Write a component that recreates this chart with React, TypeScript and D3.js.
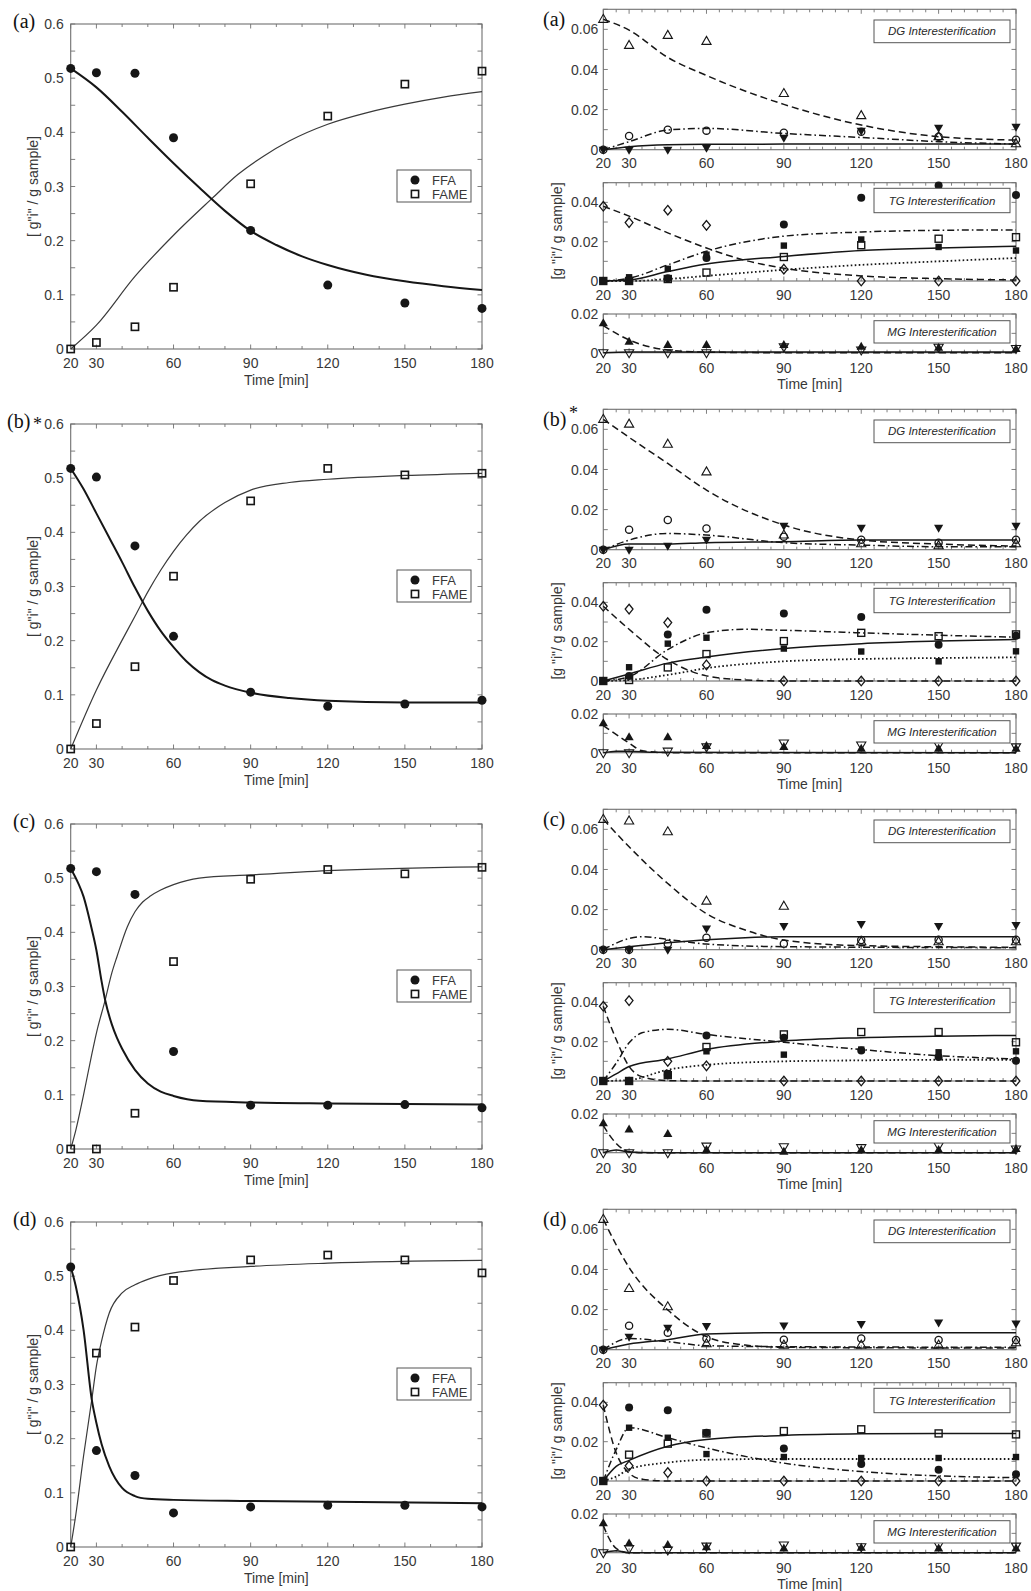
import React from 'react';
import * as d3 from 'd3';

type Pt = [number, number];

// sampling times of the measurements (min) and labelled ticks
const sampleTimes = [20, 30, 45, 60, 90, 120, 150, 180];
const timeTickLabels = [20, 30, 60, 90, 120, 150, 180];
const rowLabels = ['(a)', '(b)', '(c)', '(d)'];
const rowStars = ['', '*', '', ''];

// ---- left column: FFA / FAME, rows a..d ----
const ffaPoints = [
  [0.518, 0.51, 0.509, 0.39, 0.219, 0.118, 0.085, 0.075],
  [0.518, 0.502, 0.375, 0.208, 0.105, 0.079, 0.083, 0.09],
  [0.518, 0.512, 0.47, 0.18, 0.081, 0.081, 0.082, 0.076],
  [0.517, 0.178, 0.132, 0.063, 0.074, 0.077, 0.077, 0.074],
];
const famePoints = [
  [0, 0.012, 0.041, 0.114, 0.305, 0.43, 0.489, 0.513],
  [0, 0.047, 0.152, 0.319, 0.458, 0.518, 0.506, 0.509],
  [0, 0, 0.066, 0.346, 0.498, 0.516, 0.508, 0.52],
  [0, 0.358, 0.406, 0.492, 0.53, 0.539, 0.53, 0.506],
];
const ffaFit: Pt[][] = [
  [[20, 0.518], [30, 0.483], [40, 0.438], [50, 0.39], [60, 0.343], [70, 0.298], [80, 0.255], [90, 0.218], [100, 0.192], [110, 0.171], [120, 0.155], [135, 0.137], [150, 0.125], [165, 0.116], [180, 0.109]],
  [[20, 0.518], [25, 0.48], [30, 0.435], [35, 0.39], [40, 0.345], [45, 0.298], [50, 0.255], [55, 0.218], [60, 0.188], [65, 0.162], [70, 0.142], [75, 0.127], [80, 0.117], [90, 0.104], [105, 0.094], [120, 0.089], [150, 0.086], [180, 0.086]],
  [[20, 0.518], [23, 0.49], [25, 0.466], [28, 0.41], [30, 0.367], [32, 0.31], [33.4, 0.275], [36, 0.23], [38, 0.205], [40, 0.185], [45, 0.146], [50, 0.121], [55, 0.106], [60, 0.098], [70, 0.089], [90, 0.086], [120, 0.084], [180, 0.082]],
  [[20, 0.517], [22, 0.481], [25, 0.401], [28.2, 0.272], [30, 0.229], [32, 0.19], [35, 0.149], [40, 0.109], [45, 0.094], [50, 0.089], [60, 0.087], [90, 0.085], [180, 0.081]],
];
const fameFit: Pt[][] = [
  [[20, 0], [30, 0.044], [45, 0.134], [60, 0.21], [75, 0.278], [85, 0.322], [95, 0.356], [105, 0.384], [120, 0.415], [135, 0.436], [150, 0.452], [165, 0.465], [180, 0.475]],
  [[20, 0], [30, 0.109], [40, 0.201], [45, 0.245], [50, 0.29], [55, 0.33], [60, 0.365], [65, 0.395], [70, 0.42], [80, 0.455], [90, 0.478], [105, 0.492], [120, 0.498], [150, 0.505], [180, 0.509]],
  [[20, 0], [22, 0.035], [25, 0.1], [28, 0.17], [30, 0.214], [33.4, 0.275], [36, 0.325], [38, 0.355], [42, 0.41], [45, 0.438], [48, 0.456], [51, 0.467], [55, 0.478], [60, 0.488], [70, 0.5], [90, 0.506], [120, 0.514], [180, 0.521]],
  [[20, 0], [22, 0.06], [25, 0.168], [28.2, 0.272], [30, 0.334], [32, 0.38], [35, 0.432], [40, 0.469], [45, 0.484], [50, 0.494], [60, 0.506], [90, 0.518], [120, 0.524], [180, 0.529]],
];

// ---- right column: DG interesterification ----
const dgOpenTriangles = [
  [0.065, 0.052, 0.057, 0.054, 0.028, 0.017, 0.0065, 0.003],
  [0.065, 0.0626, 0.0526, 0.0388, 0.0073, 0.003, 0.002, 0.003],
  [0.065, 0.0642, 0.0588, 0.0242, 0.0217, 0.004, 0.004, 0.004],
  [0.065, 0.0305, 0.0214, 0.003, 0.0023, 0.0023, 0.0023, 0.0035],
];
const dgOpenCircles = [
  [0, 0.0068, 0.01, 0.0095, 0.0085, 0.009, 0.0065, 0.005],
  [0, 0.01, 0.0148, 0.0106, 0.0065, 0.005, 0.0035, 0.005],
  [0, 0, 0.003, 0.006, 0.003, 0.0048, 0.005, 0.005],
  [0, 0.012, 0.0085, 0.0056, 0.005, 0.0056, 0.0048, 0.0048],
];
const dgDownTriangles = [
  [0, 0, 0, 0.001, 0.006, 0.0095, 0.011, 0.0115],
  [0, 0, 0.002, 0.005, 0.012, 0.011, 0.011, 0.012],
  [0, 0, 0, 0.0106, 0.0118, 0.0128, 0.0118, 0.0123],
  [0, 0.0065, 0.011, 0.0118, 0.0121, 0.0128, 0.0136, 0.0131],
];
const dgTriangleFit: Pt[][] = [
  [[20, 0.065], [30, 0.0596], [45, 0.046], [60, 0.037], [90, 0.0226], [120, 0.0123], [150, 0.0065], [180, 0.0048]],
  [[20, 0.065], [30, 0.056], [45, 0.043], [60, 0.0297], [90, 0.0123], [120, 0.0048], [150, 0.0028], [180, 0.0018]],
  [[20, 0.065], [30, 0.0513], [45, 0.033], [60, 0.018], [75, 0.0098], [90, 0.0048], [120, 0.002], [180, 0.0012]],
  [[20, 0.065], [30, 0.041], [45, 0.0198], [60, 0.0065], [75, 0.0023], [90, 0.0012], [180, 0.0008]],
];
const dgCircleFit: Pt[][] = [
  [[20, 0], [30, 0.004], [45, 0.0098], [60, 0.0106], [90, 0.0081], [120, 0.0061], [150, 0.004], [180, 0.0028]],
  [[20, 0], [30, 0.0048], [45, 0.0081], [60, 0.0073], [90, 0.0035], [120, 0.0023], [150, 0.0015], [180, 0.0015]],
  [[20, 0], [30, 0.0056], [35, 0.0065], [45, 0.0051], [60, 0.0028], [90, 0.0015], [180, 0.001]],
  [[20, 0], [30, 0.0056], [45, 0.004], [60, 0.002], [90, 0.0015], [180, 0.0012]],
];
const dgDownFit: Pt[][] = [
  [[20, 0], [30, 0.0015], [45, 0.0025], [60, 0.0027], [90, 0.0028], [180, 0.0028]],
  [[20, 0], [30, 0.0028], [45, 0.0028], [60, 0.0035], [90, 0.004], [120, 0.0048], [180, 0.0048]],
  [[20, 0], [30, 0.0015], [45, 0.0035], [60, 0.005], [75, 0.006], [90, 0.0065], [180, 0.0065]],
  [[20, 0], [30, 0.0028], [45, 0.005], [60, 0.0078], [90, 0.0085], [180, 0.0085]],
];

// ---- right column: TG interesterification ----
const tgDiamonds = [
  [0.038, 0.0297, 0.036, 0.0283, 0.006, 0, 0, 0],
  [0.038, 0.0366, 0.0297, 0.0082, 0, 0, 0, 0],
  [0.038, 0.0409, 0.01, 0.0077, 0, 0, 0, 0],
  [0.0386, 0.0077, 0.0043, 0, 0, 0, 0, 0],
];
const tgFilledCircles = [
  [0, 0, 0.0014, 0.0117, 0.0288, 0.0424, 0.0486, 0.0438],
  [0, 0.0026, 0.0237, 0.0362, 0.0343, 0.0326, 0.0184, 0.023],
  [0, 0, 0.003, 0.0232, 0.022, 0.0155, 0.0122, 0.0103],
  [0, 0.0374, 0.036, 0.0245, 0.0165, 0.0086, 0.0057, 0.0034],
];
const tgFilledSquares = [
  [0, 0.0019, 0.0062, 0.0134, 0.018, 0.0211, 0.0173, 0.0155],
  [0, 0.007, 0.019, 0.022, 0.0165, 0.015, 0.01, 0.0151],
  [0, 0, 0.004, 0.0151, 0.0134, 0.016, 0.0146, 0.0151],
  [0, 0.0271, 0.022, 0.0137, 0.0122, 0.0117, 0.0117, 0.0122],
];
const tgOpenSquares = [
  [0, 0, 0.001, 0.0043, 0.0122, 0.0182, 0.0215, 0.0223],
  [0, 0.0005, 0.0069, 0.0137, 0.0203, 0.0245, 0.0228, 0.0237],
  [0, 0, 0.003, 0.0173, 0.0237, 0.0249, 0.0249, 0.0197],
  [0, 0.0134, 0.019, 0.0242, 0.0254, 0.0263, 0.0242, 0.0237],
];
const tgDiamondFit: Pt[][] = [
  [[20, 0.038], [30, 0.033], [45, 0.0245], [60, 0.0168], [75, 0.0105], [90, 0.0065], [120, 0.0026], [150, 0.0012], [180, 0.0005]],
  [[20, 0.038], [30, 0.0263], [45, 0.0108], [60, 0.0026], [75, 0.0005], [90, 0], [180, 0]],
  [[20, 0.038], [25, 0.0211], [30, 0.0074], [35, 0.0022], [45, 0.0002], [60, 0], [180, 0]],
  [[20, 0.0386], [25, 0.0143], [30, 0.004], [35, 0.0009], [45, 0], [180, 0]],
];
const tgCircleFit: Pt[][] = [
  [[20, 0], [30, 0.0014], [45, 0.0082], [60, 0.0151], [90, 0.0228], [120, 0.0249], [150, 0.0258], [180, 0.026]],
  [[20, 0], [30, 0.0022], [45, 0.016], [60, 0.0245], [75, 0.0263], [90, 0.0258], [120, 0.0245], [150, 0.0233], [180, 0.0223]],
  [[20, 0], [25, 0.0091], [30, 0.0194], [35, 0.0245], [45, 0.0263], [60, 0.0237], [90, 0.0197], [120, 0.016], [150, 0.0129], [180, 0.0112]],
  [[20, 0], [25, 0.016], [30, 0.0271], [45, 0.022], [60, 0.0168], [90, 0.0091], [120, 0.0048], [150, 0.0026], [180, 0.0017]],
];
const tgOpenSquareFit: Pt[][] = [
  [[20, 0], [30, 0.0005], [45, 0.0048], [60, 0.0086], [90, 0.0125], [120, 0.0155], [150, 0.0168], [180, 0.0177]],
  [[20, 0], [30, 0.0036], [45, 0.0091], [60, 0.0122], [90, 0.0165], [120, 0.019], [150, 0.0203], [180, 0.0211]],
  [[20, 0], [25, 0.0036], [30, 0.0074], [45, 0.0112], [60, 0.016], [90, 0.0203], [120, 0.022], [150, 0.0228], [180, 0.0232]],
  [[20, 0], [25, 0.0074], [30, 0.0105], [45, 0.0177], [60, 0.0211], [90, 0.0232], [120, 0.024], [150, 0.0242], [180, 0.0242]],
];
const tgSquareFit: Pt[][] = [
  [[20, 0], [30, 0], [45, 0.001], [60, 0.0026], [90, 0.0057], [120, 0.0082], [150, 0.01], [180, 0.0117]],
  [[20, 0], [30, 0.0005], [45, 0.0031], [60, 0.0065], [90, 0.01], [120, 0.0112], [150, 0.0117], [180, 0.012]],
  [[20, 0], [30, 0.0005], [45, 0.0057], [60, 0.0082], [90, 0.01], [120, 0.0105], [150, 0.0108], [180, 0.0108]],
  [[20, 0], [25, 0.0022], [30, 0.006], [45, 0.0094], [60, 0.0108], [90, 0.0112], [180, 0.0112]],
];

// ---- right column: MG interesterification ----
const mgUpTriangles = [
  [0.0152, 0.0057, 0.004, 0.004, 0.004, 0.0031, 0.0026, 0.0019],
  [0.0152, 0.008, 0.008, 0.0035, 0.003, 0.002, 0.002, 0.002],
  [0.0152, 0.012, 0.0097, 0.0014, 0.0005, 0.0014, 0.0014, 0.0019],
  [0.0152, 0.0048, 0.004, 0.0028, 0.0022, 0.0026, 0.0022, 0.0022],
];
const mgDownTriangles = [
  [0, 0, 0, 0, 0.003, 0.0014, 0.0028, 0.0022],
  [0, 0, 0.0008, 0.003, 0.005, 0.004, 0.004, 0.003],
  [0, 0, 0, 0.0034, 0.0031, 0.0026, 0.0036, 0.0019],
  [0, 0.0022, 0.0014, 0.0034, 0.004, 0.0031, 0.004, 0.0034],
];
const mgUpFit: Pt[][] = [
  [[20, 0.014], [30, 0.0066], [45, 0.0014], [60, 0.0003], [90, 0], [180, 0]],
  [[20, 0.014], [30, 0.005], [35, 0.001], [45, 0], [180, 0]],
  [[20, 0.014], [25, 0.0048], [30, 0.0005], [35, 0], [180, 0]],
  [[20, 0.014], [22, 0.008], [25, 0.0022], [30, 0], [180, 0]],
];
const mgDownFit: Pt[][] = [
  [[20, 0], [30, 0.0003], [45, 0.0003], [180, 0.0003]],
  [[20, 0], [25, 0.0008], [30, 0.0008], [40, 0.0002], [180, 0]],
  [[20, 0], [25, 0.0014], [30, 0.0003], [40, 0], [180, 0]],
  [[20, 0], [25, 0.001], [30, 0], [180, 0]],
];

const FONT = '"Liberation Sans", Arial, Helvetica, sans-serif';
const SERIF = '"Liberation Serif", "Times New Roman", serif';
const INK = '#161616';
const AXIS = '#707070';
const TEXT = '#383838';

const DASHED = '7,4';
const DASHDOT = '7,3,1.6,3';
const DOTTED = '1.6,2.4';

type MarkerKind =
  | 'disc' | 'openSquare' | 'smallDisc' | 'filledSquare' | 'openSquareS'
  | 'openTriUp' | 'triUp' | 'triDown' | 'openTriDown' | 'openCircle' | 'openDiamond';

type LineSpec = { pts: Pt[]; dash?: string; width?: number; color?: string };
type PointSpec = { values: number[]; marker: MarkerKind };

function marker(kind: MarkerKind, cx: number, cy: number, key: string) {
  const tri = (dir: number) =>
    `M${cx},${cy - 5 * dir}L${cx + 4.6},${cy + 3 * dir}L${cx - 4.6},${cy + 3 * dir}Z`;
  switch (kind) {
    case 'disc':
      return <circle key={key} cx={cx} cy={cy} r={4.5} fill={INK} />;
    case 'openSquare':
      return <rect key={key} x={cx - 3.6} y={cy - 3.6} width={7.2} height={7.2} fill="none" stroke={INK} strokeWidth={1.6} />;
    case 'smallDisc':
      return <circle key={key} cx={cx} cy={cy} r={4} fill={INK} />;
    case 'filledSquare':
      return <rect key={key} x={cx - 3.2} y={cy - 3.2} width={6.4} height={6.4} fill={INK} />;
    case 'openSquareS':
      return <rect key={key} x={cx - 3.5} y={cy - 3.5} width={7} height={7} fill="none" stroke={INK} strokeWidth={1.4} />;
    case 'openTriUp':
      return <path key={key} d={tri(1)} fill="none" stroke={INK} strokeWidth={1.1} />;
    case 'triUp':
      return <path key={key} d={tri(1)} fill={INK} />;
    case 'triDown':
      return <path key={key} d={tri(-1)} fill={INK} />;
    case 'openTriDown':
      return <path key={key} d={tri(-1)} fill="none" stroke={INK} strokeWidth={1.1} />;
    case 'openCircle':
      return <circle key={key} cx={cx} cy={cy} r={3.6} fill="none" stroke={INK} strokeWidth={1.3} />;
    case 'openDiamond':
      return (
        <path key={key} d={`M${cx},${cy - 4.8}L${cx + 3.9},${cy}L${cx},${cy + 4.8}L${cx - 3.9},${cy}Z`}
          fill="none" stroke={INK} strokeWidth={1.3} />
      );
  }
}

function fmt(v: number) {
  return v === 0 ? '0' : String(+v.toFixed(2));
}

type PanelProps = {
  left: number; right: number; top: number; bottom: number;
  yMax: number; yLabels: number[]; yTickStep: number; xTickStep: number;
  lines: LineSpec[]; points: PointSpec[];
  labelGap: number; xLabelDy: number;
};

function Panel(p: PanelProps) {
  const x = d3.scaleLinear().domain([20, 180]).range([p.left, p.right]);
  const y = d3.scaleLinear().domain([0, p.yMax]).range([p.bottom, p.top]);
  const line = d3.line<Pt>().x((d) => x(d[0])).y((d) => y(d[1])).curve(d3.curveMonotoneX);
  const xt = d3.range(20, 180.001, p.xTickStep);
  const yt = d3.range(0, p.yMax + 1e-9, p.yTickStep);
  const isMajorX = (t: number) => timeTickLabels.includes(Math.round(t));
  return (
    <g>
      <rect x={p.left} y={p.top} width={p.right - p.left} height={p.bottom - p.top}
        fill="none" stroke={AXIS} strokeWidth={1.1} />
      {xt.map((t, i) => {
        const len = isMajorX(t) ? 4.5 : 3;
        return (
          <g key={'xt' + i} stroke={AXIS} strokeWidth={0.9}>
            <line x1={x(t)} x2={x(t)} y1={p.bottom} y2={p.bottom - len} />
            <line x1={x(t)} x2={x(t)} y1={p.top} y2={p.top + len} />
          </g>
        );
      })}
      {yt.map((v, i) => (
        <g key={'yt' + i} stroke={AXIS} strokeWidth={0.9}>
          <line x1={p.left} x2={p.left + 4.5} y1={y(v)} y2={y(v)} />
          <line x1={p.right} x2={p.right - 4.5} y1={y(v)} y2={y(v)} />
        </g>
      ))}
      {p.yLabels.map((v) => (
        <text key={'yl' + v} x={p.left - p.labelGap} y={y(v)} dy="0.36em" textAnchor="end"
          fontFamily={FONT} fontSize={14} fill={TEXT}>{fmt(v)}</text>
      ))}
      {timeTickLabels.map((t) => (
        <text key={'xl' + t} x={x(t)} y={p.bottom + p.xLabelDy} textAnchor="middle"
          fontFamily={FONT} fontSize={14} fill={TEXT}>{t}</text>
      ))}
      {p.lines.map((l, i) => (
        <path key={'ln' + i} d={line(l.pts) || ''} fill="none" stroke={l.color || INK}
          strokeWidth={l.width || 1.5} strokeDasharray={l.dash} />
      ))}
      {p.points.map((s, si) =>
        s.values.map((v, i) => marker(s.marker, x(sampleTimes[i]), y(v), `m${si}-${i}`))
      )}
    </g>
  );
}

const leftTops = [24, 424, 824, 1222];
const rightOffsets = [0, 400, 800, 1200];
const LX0 = 70.7, LX1 = 482, LH = 325;
const RX0 = 603.3, RX1 = 1016;

function RowLabel({ x, y, r, starX, starY }: { x: number; y: number; r: number; starX: number; starY: number }) {
  return (
    <g fontFamily={SERIF} fontSize={20} fill="#111">
      <text x={x} y={y}>{rowLabels[r]}</text>
      {rowStars[r] && <text x={starX} y={starY} fontSize={18}>{rowStars[r]}</text>}
    </g>
  );
}

function LeftBlock({ r }: { r: number }) {
  const top = leftTops[r];
  const bottom = top + LH;
  return (
    <g>
      <Panel left={LX0} right={LX1} top={top} bottom={bottom} yMax={0.6}
        yLabels={[0, 0.1, 0.2, 0.3, 0.4, 0.5, 0.6]} yTickStep={0.05} xTickStep={10}
        labelGap={7} xLabelDy={19}
        lines={[
          { pts: fameFit[r], width: 1.2, color: '#3a3a3a' },
          { pts: ffaFit[r], width: 2, color: INK },
        ]}
        points={[
          { values: ffaPoints[r], marker: 'disc' },
          { values: famePoints[r], marker: 'openSquare' },
        ]}
      />
      <RowLabel x={r === 1 ? 7 : 13} y={top + 4} r={r} starX={33} starY={top + 6} />
      <text x={(LX0 + LX1) / 2} y={bottom + 36} textAnchor="middle" fontFamily={FONT} fontSize={14} fill={TEXT}>Time [min]</text>
      <text transform={`translate(38,${(top + bottom) / 2}) rotate(-90)`} textAnchor="middle"
        fontFamily={FONT} fontSize={14} fill={TEXT}>{'[ g"i" / g sample]'}</text>
      <rect x={397} y={top + 146} width={74} height={32} fill="white" stroke="#555" strokeWidth={1} />
      {marker('disc', 415, top + 156, 'lg1')}
      {marker('openSquare', 415, top + 170, 'lg2')}
      <text x={432} y={top + 160.5} fontFamily={FONT} fontSize={13} fill={TEXT}>FFA</text>
      <text x={432} y={top + 174.5} fontFamily={FONT} fontSize={13} fill={TEXT}>FAME</text>
    </g>
  );
}

function Legend({ y0, y1, label }: { y0: number; y1: number; label: string }) {
  return (
    <g>
      <rect x={874} y={y0} width={136} height={y1 - y0} fill="white" stroke="#555" strokeWidth={1} />
      <text x={942} y={(y0 + y1) / 2} dy="0.36em" textAnchor="middle" fontFamily={FONT}
        fontStyle="italic" fontSize={11.5} fill="#2a2a2a">{label}</text>
    </g>
  );
}

function RightBlock({ r }: { r: number }) {
  const o = rightOffsets[r];
  return (
    <g>
      <Panel left={RX0} right={RX1} top={o + 9.3} bottom={o + 149.7} yMax={0.07}
        yLabels={[0, 0.02, 0.04, 0.06]} yTickStep={0.01} xTickStep={5}
        labelGap={5} xLabelDy={18.5}
        lines={[
          { pts: dgTriangleFit[r], dash: DASHED },
          { pts: dgCircleFit[r], dash: DASHDOT },
          { pts: dgDownFit[r] },
        ]}
        points={[
          { values: dgOpenTriangles[r], marker: 'openTriUp' },
          { values: dgOpenCircles[r], marker: 'openCircle' },
          { values: dgDownTriangles[r], marker: 'triDown' },
        ]}
      />
      <Legend y0={o + 20} y1={o + 42.7} label="DG Interesterification" />
      <Panel left={RX0} right={RX1} top={o + 182.7} bottom={o + 281} yMax={0.05}
        yLabels={[0, 0.02, 0.04]} yTickStep={0.01} xTickStep={5}
        labelGap={5} xLabelDy={19}
        lines={[
          { pts: tgDiamondFit[r], dash: DASHED },
          { pts: tgCircleFit[r], dash: DASHDOT },
          { pts: tgOpenSquareFit[r] },
          { pts: tgSquareFit[r], dash: DOTTED, width: 1.8 },
        ]}
        points={[
          { values: tgDiamonds[r], marker: 'openDiamond' },
          { values: tgFilledCircles[r], marker: 'smallDisc' },
          { values: tgFilledSquares[r], marker: 'filledSquare' },
          { values: tgOpenSquares[r], marker: 'openSquareS' },
        ]}
      />
      <Legend y0={o + 188.3} y1={o + 212.7} label="TG Interesterification" />
      <Panel left={RX0} right={RX1} top={o + 314} bottom={o + 352.7} yMax={0.02}
        yLabels={[0, 0.02]} yTickStep={0.01} xTickStep={5}
        labelGap={5} xLabelDy={20.5}
        lines={[
          { pts: mgUpFit[r], dash: DASHED },
          { pts: mgDownFit[r] },
        ]}
        points={[
          { values: mgUpTriangles[r], marker: 'triUp' },
          { values: mgDownTriangles[r], marker: 'openTriDown' },
        ]}
      />
      <Legend y0={o + 320.7} y1={o + 343} label="MG Interesterification" />
      <RowLabel x={543} y={o + 26} r={r} starX={569} starY={o + 19} />
      <text x={(RX0 + RX1) / 2} y={o + 389} textAnchor="middle" fontFamily={FONT} fontSize={14} fill={TEXT}>Time [min]</text>
      <text transform={`translate(562,${o + 231}) rotate(-90)`} textAnchor="middle"
        fontFamily={FONT} fontSize={14} fill={TEXT}>{'[g "i"/ g sample]'}</text>
    </g>
  );
}

export default function App() {
  return (
    <svg width={1031} height={1591} viewBox="0 0 1031 1591"
      style={{ position: 'absolute', left: 0, top: 0, background: 'white' }}>
      <rect width={1031} height={1591} fill="white" />
      {[0, 1, 2, 3].map((r) => (
        <g key={r}>
          <LeftBlock r={r} />
          <RightBlock r={r} />
        </g>
      ))}
    </svg>
  );
}
